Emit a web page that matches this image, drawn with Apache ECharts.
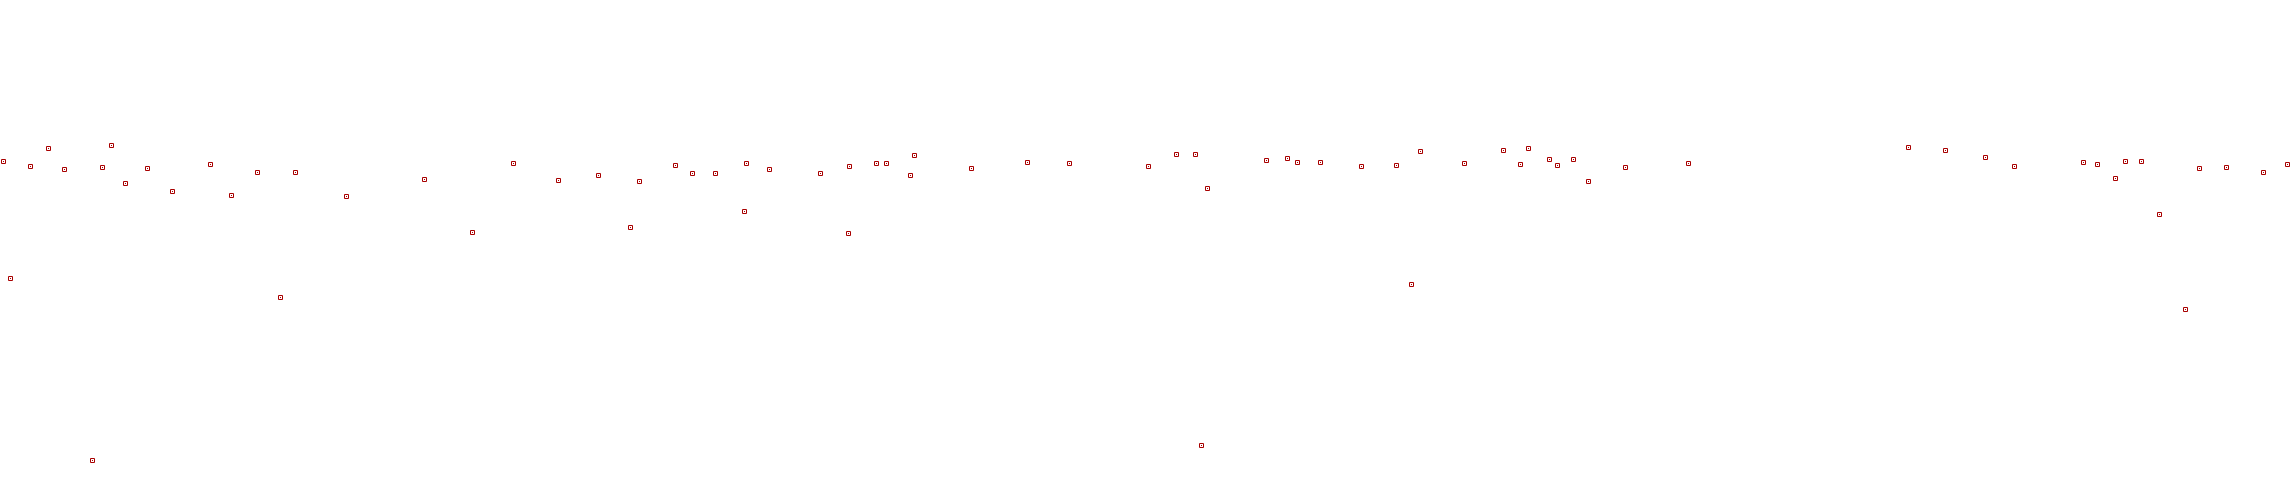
<!DOCTYPE html>
<html>
<head>
<meta charset="utf-8">
<script src="https://cdn.jsdelivr.net/npm/echarts@6/dist/echarts.min.js"></script>
<style>
html,body{margin:0;padding:0;background:#fff;}
#chart{width:2292px;height:500px;}
</style>
</head>
<body>
<div id="chart"></div>
<script>
// Horizontal positions (axis units)
const xValues = [3,10,30,48,64,92,102,111,125,147,172,210,231,257,280,295,346,424,472,513,558,598,630,639,675,692,715,744,746,769,820,848,849,876,886,910,914,971,1027,1069,1148,1176,1195,1201,1207,1266,1287,1297,1320,1361,1396,1411,1420,1464,1503,1520,1528,1549,1557,1573,1588,1625,1688,1908,1945,1985,2014,2083,2097,2115,2125,2141,2159,2185,2199,2226,2263,2287];
// Vertical values (axis units)
const yValues = [339,222,334,352,331,40,333,355,317,332,309,336,305,328,203,328,304,321,268,337,320,325,273,319,335,327,327,289,337,331,327,267,334,337,337,325,345,332,338,337,334,346,346,55,312,340,342,338,338,334,335,216,349,337,350,336,352,341,335,341,319,333,337,353,350,343,334,338,336,322,339,339,286,191,332,333,328,336];

const markerColor = '#a80000';
const data = xValues.map((x, i) => [x, yValues[i]]);

const chart = echarts.init(document.getElementById('chart'), null, {renderer: 'canvas'});
chart.setOption({
  animation: false,
  backgroundColor: '#ffffff',
  grid: {left: 0, right: 0, top: 0, bottom: 0, containLabel: false},
  xAxis: {type: 'value', min: 0, max: 2292, show: false},
  yAxis: {type: 'value', min: 0, max: 500, show: false},
  series: [{
    type: 'custom',
    data: data,
    clip: false,
    renderItem: function (params, api) {
      const p = api.coord([api.value(0), api.value(1)]);
      const cx = Math.round(p[0]);
      const cy = Math.round(p[1]);
      return {
        type: 'group',
        children: [
          {type: 'rect', shape: {x: cx - 1.5, y: cy - 1.5, width: 4, height: 4},
           style: {fill: null, stroke: markerColor, lineWidth: 1}},
          {type: 'rect', shape: {x: cx, y: cy, width: 1, height: 1},
           style: {fill: markerColor}}
        ]
      };
    }
  }]
});
</script>
</body>
</html>
